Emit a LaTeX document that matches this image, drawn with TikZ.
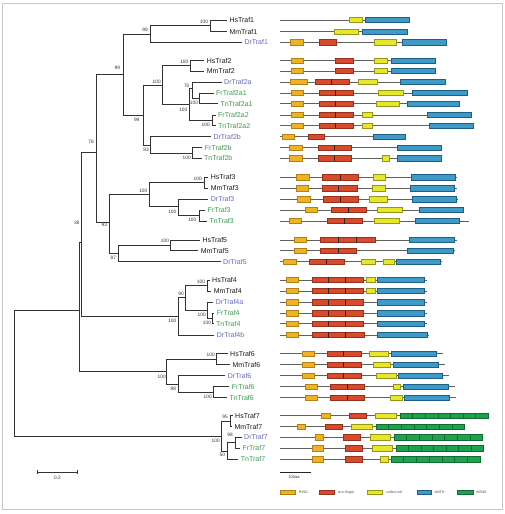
\documentclass[tikz,border=0pt]{standalone}
\usepackage{fontspec}
\setmainfont{Liberation Sans}
\definecolor{drcol}{RGB}{100,106,190}
\definecolor{fncol}{RGB}{60,155,78}
\definecolor{tipcol}{RGB}{25,25,25}
\definecolor{ringF}{RGB}{238,178,36}\definecolor{ringD}{RGB}{180,130,20}
\definecolor{zincF}{RGB}{217,74,44}\definecolor{zincD}{RGB}{150,50,28}
\definecolor{coilF}{RGB}{230,230,45}\definecolor{coilD}{RGB}{150,150,25}
\definecolor{mathF}{RGB}{62,155,200}\definecolor{mathD}{RGB}{30,95,135}
\definecolor{wdF}{RGB}{30,162,78}\definecolor{wdD}{RGB}{18,105,50}
\tikzset{
  br/.style={draw=black!80,line width=0.9pt},
  tip/.style={anchor=west,inner sep=0pt,text height=5pt,text depth=0pt,font=\fontsize{7}{8}\selectfont,text=tipcol},
  dr/.style={tip,text=drcol},
  fn/.style={tip,text=fncol},
  bs/.style={inner sep=0pt,font=\fontsize{4.8}{5}\selectfont,text=black!80},
  backbone/.style={draw=black!62,line width=0.9pt},
  ring/.style={fill=ringF,draw=ringD,line width=0.45pt},
  zinc/.style={fill=zincF,draw=zincD,line width=0.45pt},
  coil/.style={fill=coilF,draw=coilD,line width=0.45pt},
  math/.style={fill=mathF,draw=mathD,line width=0.45pt},
  wdbox/.style={fill=wdF,draw=wdD,line width=0.45pt},
  divline/.style={draw=black!85,line width=0.6pt},
  legtxt/.style={anchor=west,inner sep=0pt,font=\fontsize{3.6}{4}\selectfont,text=black!70},
}
\newcommand{\dombb}[2]{\draw[backbone] (280.3,#1) -- (#2,#1);}
\newcommand{\dombox}[4]{\draw[#1] (#2,#4-2.7) rectangle (#3,#4+2.7);}
\newcommand{\domdiv}[2]{\draw[divline] (#1,#2-2.7) -- (#1,#2+2.7);}
\newcommand{\domwd}[3]{\foreach \k in {0,...,6}{\draw[wdbox] ({#1+\k*(#2-#1)/7},#3-2.7) rectangle ({#1+(\k+1)*(#2-#1)/7},#3+2.7);}}
\begin{document}
\begin{tikzpicture}[x=1pt,y=-1pt]
\useasboundingbox (0,0) rectangle (504,514);
\fill[white] (0,0) rectangle (504,514);
\draw[black!22,line width=0.8pt] (2.7,3.3) rectangle (502.3,509.3);

% ---------------- tip labels ----------------
\node[tip] (HsTraf1) at (229.3,20) {HsTraf1};
\node[tip] (MmTraf1) at (229.3,31.7) {MmTraf1};
\node[dr] (DrTraf1) at (244.3,42.3) {DrTraf1};
\node[tip] (HsTraf2) at (206.7,60.7) {HsTraf2};
\node[tip] (MmTraf2) at (206.7,71) {MmTraf2};
\node[dr] (DrTraf2a) at (224,82) {DrTraf2a};
\node[fn] (FrTraf2a1) at (216,93) {FrTraf2a1};
\node[fn] (TnTraf2a1) at (220.3,103.7) {TnTraf2a1};
\node[fn] (FrTraf2a2) at (218,115) {FrTraf2a2};
\node[fn] (TnTraf2a2) at (218,125.7) {TnTraf2a2};
\node[dr] (DrTraf2b) at (213.3,136.7) {DrTraf2b};
\node[fn] (FrTraf2b) at (204.7,147.7) {FrTraf2b};
\node[fn] (TnTraf2b) at (204,158.3) {TnTraf2b};
\node[tip] (HsTraf3) at (210.7,177.3) {HsTraf3};
\node[tip] (MmTraf3) at (210.7,188.3) {MmTraf3};
\node[dr] (DrTraf3) at (210.7,199.3) {DrTraf3};
\node[fn] (FrTraf3) at (207.7,210) {FrTraf3};
\node[fn] (TnTraf3) at (209.3,221) {TnTraf3};
\node[tip] (HsTraf5) at (202.3,240) {HsTraf5};
\node[tip] (MmTraf5) at (200.7,250.7) {MmTraf5};
\node[dr] (DrTraf5) at (223,261.7) {DrTraf5};
\node[tip] (HsTraf4) at (212,280) {HsTraf4};
\node[tip] (MmTraf4) at (213.7,291) {MmTraf4};
\node[dr] (DrTraf4a) at (215.7,302.3) {DrTraf4a};
\node[fn] (FrTraf4) at (216.7,313.3) {FrTraf4};
\node[fn] (TnTraf4) at (216,323.7) {TnTraf4};
\node[dr] (DrTraf4b) at (216.7,335) {DrTraf4b};
\node[tip] (HsTraf6) at (230,353.7) {HsTraf6};
\node[tip] (MmTraf6) at (232.3,364.7) {MmTraf6};
\node[dr] (DrTraf6) at (227.7,375.7) {DrTraf6};
\node[fn] (FrTraf6) at (231.7,386.7) {FrTraf6};
\node[fn] (TnTraf6) at (229.3,397.7) {TnTraf6};
\node[tip] (HsTraf7) at (235,415.7) {HsTraf7};
\node[tip] (MmTraf7) at (234.3,426.7) {MmTraf7};
\node[dr] (DrTraf7) at (244,437.3) {DrTraf7};
\node[fn] (FrTraf7) at (242.3,448.3) {FrTraf7};
\node[fn] (TnTraf7) at (240.7,459.3) {TnTraf7};

% ---------------- internal nodes ----------------
\coordinate (n0) at (14,373.5);
\coordinate (nB) at (79.7,310.7);
\coordinate (n13) at (81.3,242);
\coordinate (n11) at (96,152.3);
\coordinate (n3) at (123.3,74.9);
\coordinate (n2) at (150,34);
\coordinate (n1) at (210,25.8);
\coordinate (n8) at (143.3,115.5);
\coordinate (n4) at (162.3,85.5);
\coordinate (n5) at (190,65.8);
\coordinate (nA) at (189.3,104);
\coordinate (n6) at (192.7,88.5);
\coordinate (n6b) at (199.3,98.3);
\coordinate (n7) at (212,120.3);
\coordinate (n9) at (150.7,145);
\coordinate (n10) at (192.3,153);
\coordinate (n12) at (109.3,222);
\coordinate (n14) at (149.3,194.4);
\coordinate (n15) at (204,182.8);
\coordinate (n16) at (178.3,206.5);
\coordinate (n16b) at (199,215.5);
\coordinate (n17) at (118.3,253.3);
\coordinate (n18) at (170.7,245.3);
\coordinate (n19) at (178.3,316.4);
\coordinate (n20) at (185,297.7);
\coordinate (n20a) at (207.3,285.5);
\coordinate (n21) at (207.3,310.4);
\coordinate (n21b) at (212.7,318.5);
\coordinate (n22) at (166.7,371.3);
\coordinate (n23) at (216.7,359.2);
\coordinate (n24) at (178.3,384);
\coordinate (n24b) at (213.3,392.2);
\coordinate (n25) at (221,436.2);
\coordinate (n26) at (230.7,421.2);
\coordinate (n27) at (227.3,451);
\coordinate (n28) at (235,442.8);

% ---------------- branches ----------------
\draw[br] (n0) |- (nB); \draw[br] (n0) |- (n25);
\draw[br] (nB) |- (n13); \draw[br] (nB) |- (n22);
\draw[br] (n13) |- (n11); \draw[br] (n13) |- (n19);
\draw[br] (n11) |- (n3); \draw[br] (n11) |- (n12);
\draw[br] (n3) |- (n2); \draw[br] (n3) |- (n8);
\draw[br] (n2) |- (n1); \draw[br] (n2) |- ([xshift=-2.5pt]DrTraf1.west);
\draw[br] (n1) |- ([xshift=-2.5pt]HsTraf1.west); \draw[br] (n1) |- ([xshift=-2.5pt]MmTraf1.west);
\draw[br] (n8) |- (n4); \draw[br] (n8) |- (n9);
\draw[br] (n4) |- (n5); \draw[br] (n4) |- (nA);
\draw[br] (n5) |- ([xshift=-2.5pt]HsTraf2.west); \draw[br] (n5) |- ([xshift=-2.5pt]MmTraf2.west);
\draw[br] (nA) |- (n6); \draw[br] (nA) |- (n7);
\draw[br] (n6) |- ([xshift=-2.5pt]DrTraf2a.west); \draw[br] (n6) |- (n6b);
\draw[br] (n6b) |- ([xshift=-2.5pt]FrTraf2a1.west); \draw[br] (n6b) |- ([xshift=-2.5pt]TnTraf2a1.west);
\draw[br] (n7) |- ([xshift=-2.5pt]FrTraf2a2.west); \draw[br] (n7) |- ([xshift=-2.5pt]TnTraf2a2.west);
\draw[br] (n9) |- ([xshift=-2.5pt]DrTraf2b.west); \draw[br] (n9) |- (n10);
\draw[br] (n10) |- ([xshift=-2.5pt]FrTraf2b.west); \draw[br] (n10) |- ([xshift=-2.5pt]TnTraf2b.west);
\draw[br] (n12) |- (n14); \draw[br] (n12) |- (n17);
\draw[br] (n14) |- (n15); \draw[br] (n14) |- (n16);
\draw[br] (n15) |- ([xshift=-2.5pt]HsTraf3.west); \draw[br] (n15) |- ([xshift=-2.5pt]MmTraf3.west);
\draw[br] (n16) |- ([xshift=-2.5pt]DrTraf3.west); \draw[br] (n16) |- (n16b);
\draw[br] (n16b) |- ([xshift=-2.5pt]FrTraf3.west); \draw[br] (n16b) |- ([xshift=-2.5pt]TnTraf3.west);
\draw[br] (n17) |- (n18); \draw[br] (n17) |- ([xshift=-2.5pt]DrTraf5.west);
\draw[br] (n18) |- ([xshift=-2.5pt]HsTraf5.west); \draw[br] (n18) |- ([xshift=-2.5pt]MmTraf5.west);
\draw[br] (n19) |- (n20); \draw[br] (n19) |- ([xshift=-2.5pt]DrTraf4b.west);
\draw[br] (n20) |- (n20a); \draw[br] (n20) |- (n21);
\draw[br] (n20a) |- ([xshift=-2.5pt]HsTraf4.west); \draw[br] (n20a) |- ([xshift=-2.5pt]MmTraf4.west);
\draw[br] (n21) |- ([xshift=-2.5pt]DrTraf4a.west); \draw[br] (n21) |- (n21b);
\draw[br] (n21b) |- ([xshift=-2.5pt]FrTraf4.west); \draw[br] (n21b) |- ([xshift=-2.5pt]TnTraf4.west);
\draw[br] (n22) |- (n23); \draw[br] (n22) |- (n24);
\draw[br] (n23) |- ([xshift=-2.5pt]HsTraf6.west); \draw[br] (n23) |- ([xshift=-2.5pt]MmTraf6.west);
\draw[br] (n24) |- ([xshift=-2.5pt]DrTraf6.west); \draw[br] (n24) |- (n24b);
\draw[br] (n24b) |- ([xshift=-2.5pt]FrTraf6.west); \draw[br] (n24b) |- ([xshift=-2.5pt]TnTraf6.west);
\draw[br] (n25) |- (n26); \draw[br] (n25) |- (n27);
\draw[br] (n26) |- ([xshift=-2.5pt]HsTraf7.west); \draw[br] (n26) |- ([xshift=-2.5pt]MmTraf7.west);
\draw[br] (n27) |- (n28); \draw[br] (n27) |- ([xshift=-2.5pt]TnTraf7.west);
\draw[br] (n28) |- ([xshift=-2.5pt]DrTraf7.west); \draw[br] (n28) |- ([xshift=-2.5pt]FrTraf7.west);

% ---------------- bootstrap values ----------------
\node[bs] (b1) at (204,22) {100};
\node[bs] (b2) at (145,30.3) {99};
\node[bs] (b3) at (117.3,67.7) {99};
\node[bs] (b4) at (156.7,81.7) {100};
\node[bs] (b5) at (184.3,62) {100};
\node[bs] (b6) at (186.7,86) {70};
\node[bs] (b6b) at (194,103.3) {100};
\node[bs] (bA) at (183.3,110) {100};
\node[bs] (b7) at (205.7,125.3) {100};
\node[bs] (b8) at (136.7,120) {99};
\node[bs] (b9) at (146,150) {83};
\node[bs] (b10) at (186.7,158) {100};
\node[bs] (b11) at (91,141.7) {78};
\node[bs] (b12) at (104.3,225) {93};
\node[bs] (b14) at (143.3,191) {100};
\node[bs] (b15) at (197.7,179) {100};
\node[bs] (b16) at (172.3,212) {100};
\node[bs] (b16b) at (192.3,220.3) {100};
\node[bs] (b17) at (113.3,258.3) {87};
\node[bs] (b18) at (165,241.3) {100};
\node[bs] (b13) at (76.7,222.7) {38};
\node[bs] (b19) at (172.3,321) {100};
\node[bs] (b20) at (181,294.3) {90};
\node[bs] (b20a) at (201,282) {100};
\node[bs] (b21) at (201.7,315) {100};
\node[bs] (b21b) at (207,323) {100};
\node[bs] (b22) at (161.7,376.7) {100};
\node[bs] (b23) at (210.7,355) {100};
\node[bs] (b24) at (173.3,389) {98};
\node[bs] (b24b) at (207.7,397) {100};
\node[bs] (b25) at (215.7,440.7) {100};
\node[bs] (b26) at (225,417) {95};
\node[bs] (b27) at (222.3,455.3) {50};
\node[bs] (b28) at (230,435) {98};

% tree scale bar
\coordinate (sbA) at (37.3,472);
\coordinate (sbB) at (77.7,472);
\draw[br,line width=0.8pt] (sbA) -- (sbB);
\draw[br,line width=0.8pt] ([yshift=-1.8pt]sbA) -- ([yshift=1.8pt]sbA);
\draw[br,line width=0.8pt] ([yshift=-1.8pt]sbB) -- ([yshift=1.8pt]sbB);
\node[bs] (sbl) at (57.5,477.5) {0.2};

% ---------------- domain architectures ----------------
% Traf1
\dombb{20}{409.3}\dombox{coil}{349.3}{362.7}{20}\dombox{math}{365.3}{409.3}{20}
\dombb{31.7}{407}\dombox{coil}{334.3}{358.7}{31.7}\dombox{math}{362.7}{407}{31.7}
\dombb{42.3}{446.7}\dombox{ring}{290.3}{303.7}{42.3}\dombox{zinc}{319.3}{336}{42.3}\dombox{coil}{374.3}{396.7}{42.3}\dombox{math}{402.3}{446.7}{42.3}
% Traf2
\dombb{60.7}{435.7}\dombox{ring}{291}{303.3}{60.7}\dombox{zinc}{335.3}{353}{60.7}\dombox{coil}{374.3}{387}{60.7}\dombox{math}{391}{435.7}{60.7}
\dombb{71}{435.7}\dombox{ring}{291}{303.3}{71}\dombox{zinc}{335.3}{353}{71}\dombox{coil}{374.3}{387}{71}\dombox{math}{391}{435.7}{71}
\dombb{82}{445}\dombox{ring}{290.3}{307.7}{82}\dombox{zinc}{315.3}{349.3}{82}\domdiv{331.7}{82}\dombox{coil}{358.3}{377}{82}\dombox{math}{400.7}{445}{82}
\dombb{93}{467}\dombox{ring}{291}{303.3}{93}\dombox{zinc}{319.3}{353.3}{93}\domdiv{335.3}{93}\dombox{coil}{378}{403.7}{93}\dombox{math}{412}{467}{93}
\dombb{103.7}{459}\dombox{ring}{291}{303.3}{103.7}\dombox{zinc}{319.3}{353.3}{103.7}\domdiv{335.3}{103.7}\dombox{coil}{376.3}{399.3}{103.7}\dombox{math}{407}{459}{103.7}
\dombb{115}{471.7}\dombox{ring}{291}{303.3}{115}\dombox{zinc}{319.3}{353.3}{115}\domdiv{335.3}{115}\dombox{coil}{362.3}{372}{115}\dombox{math}{427.7}{471.7}{115}
\dombb{125.7}{473.7}\dombox{ring}{291}{303.3}{125.7}\dombox{zinc}{319.3}{353.3}{125.7}\domdiv{335.3}{125.7}\dombox{coil}{362.3}{372}{125.7}\dombox{math}{429.3}{473.7}{125.7}
\dombb{136.7}{405.7}\dombox{ring}{282}{294.7}{136.7}\dombox{zinc}{308}{324.3}{136.7}\dombox{math}{373.3}{405.7}{136.7}
\dombb{147.7}{441.7}\dombox{ring}{289.3}{302}{147.7}\dombox{zinc}{318}{351.7}{147.7}\domdiv{334.3}{147.7}\dombox{math}{397}{441.7}{147.7}
\dombb{158.3}{441}\dombox{ring}{289.3}{302}{158.3}\dombox{zinc}{318}{351.7}{158.3}\domdiv{334.3}{158.3}\dombox{coil}{382.3}{389}{158.3}\dombox{math}{397}{441}{158.3}
% Traf3
\dombb{177.3}{456.7}\dombox{ring}{296.7}{309.3}{177.3}\dombox{zinc}{322.3}{358}{177.3}\domdiv{340}{177.3}\dombox{coil}{373}{385.7}{177.3}\dombox{math}{411}{455}{177.3}
\dombb{188.3}{456.7}\dombox{ring}{296}{308.7}{188.3}\dombox{zinc}{322.3}{357.7}{188.3}\domdiv{338.3}{188.3}\dombox{coil}{372.3}{385.3}{188.3}\dombox{math}{410.7}{454.3}{188.3}
\dombb{199.3}{458.3}\dombox{ring}{297.7}{310}{199.3}\dombox{zinc}{323.3}{358.7}{199.3}\domdiv{340.7}{199.3}\dombox{coil}{369.3}{387}{199.3}\dombox{math}{412.7}{456.7}{199.3}
\dombb{210}{464.3}\dombox{ring}{305.3}{317.3}{210}\dombox{zinc}{331}{366}{210}\domdiv{348}{210}\dombox{coil}{377.3}{402.3}{210}\dombox{math}{419}{463}{210}
\dombb{221}{469}\dombox{ring}{289.3}{301.7}{221}\dombox{zinc}{327.3}{362.7}{221}\domdiv{344.3}{221}\dombox{coil}{374.7}{399}{221}\dombox{math}{415.7}{459.7}{221}
% Traf5
\dombb{240}{456.7}\dombox{ring}{294.3}{306.7}{240}\dombox{zinc}{320.7}{375.3}{240}\domdiv{338.3}{240}\domdiv{356.7}{240}\dombox{math}{409.7}{454.7}{240}
\dombb{250.7}{455}\dombox{ring}{294.3}{306.7}{250.7}\dombox{zinc}{320.7}{356.3}{250.7}\domdiv{338.3}{250.7}\dombox{math}{407.7}{453.3}{250.7}
\dombb{261.7}{441.7}\dombox{ring}{283.3}{296.3}{261.7}\dombox{zinc}{309.3}{344.3}{261.7}\domdiv{326.7}{261.7}\dombox{coil}{361.7}{375.3}{261.7}\dombox{coil}{383.7}{394}{261.7}\dombox{math}{396.7}{440.7}{261.7}
% Traf4
\foreach \yy in {280,291}{
  \dombb{\yy}{426.7}\dombox{ring}{286}{298.7}{\yy}\dombox{zinc}{312}{363.7}{\yy}\domdiv{328.7}{\yy}\domdiv{345.7}{\yy}\dombox{coil}{366.3}{375.7}{\yy}\dombox{math}{377.3}{424.7}{\yy}
}
\foreach \yy in {302.3,313.3,323.7}{
  \dombb{\yy}{426.7}\dombox{ring}{286}{298.7}{\yy}\dombox{zinc}{312}{363.7}{\yy}\domdiv{328.7}{\yy}\domdiv{345.7}{\yy}\dombox{math}{377.3}{424.7}{\yy}
}
\dombb{335}{429}\dombox{ring}{286}{298.7}{335}\dombox{zinc}{312}{364.3}{335}\domdiv{328.7}{335}\domdiv{345.7}{335}\dombox{math}{377.3}{427}{335}
% Traf6
\dombb{353.7}{443}\dombox{ring}{302.3}{314.3}{353.7}\dombox{zinc}{327.3}{361}{353.7}\domdiv{343.7}{353.7}\dombox{coil}{369.3}{388.3}{353.7}\dombox{math}{391}{436}{353.7}
\dombb{364.7}{445.3}\dombox{ring}{302.3}{314.3}{364.7}\dombox{zinc}{327.3}{361}{364.7}\domdiv{343.7}{364.7}\dombox{coil}{373.3}{390.7}{364.7}\dombox{math}{393.3}{438.7}{364.7}
\dombb{375.7}{449.3}\dombox{ring}{302.3}{314.3}{375.7}\dombox{zinc}{327.3}{361.7}{375.7}\domdiv{343.7}{375.7}\dombox{coil}{376.7}{396.7}{375.7}\dombox{math}{398.7}{442.7}{375.7}
\dombb{386.7}{455}\dombox{ring}{305.3}{317.3}{386.7}\dombox{zinc}{330.3}{364}{386.7}\domdiv{347.3}{386.7}\dombox{coil}{393.3}{400.7}{386.7}\dombox{math}{403.3}{448.3}{386.7}
\dombb{397.7}{456.3}\dombox{ring}{305.3}{317.3}{397.7}\dombox{zinc}{330.3}{364.7}{397.7}\domdiv{347.3}{397.7}\dombox{coil}{390.3}{402.7}{397.7}\dombox{math}{404.7}{449.7}{397.7}
% Traf7
\dombb{415.7}{488.3}\dombox{ring}{321}{330}{415.7}\dombox{zinc}{349.3}{366.7}{415.7}\dombox{coil}{375}{396.7}{415.7}\domwd{400}{488.3}{415.7}
\dombb{426.7}{464.7}\dombox{ring}{297.3}{305.7}{426.7}\dombox{zinc}{325.3}{342.7}{426.7}\dombox{coil}{351.3}{372.7}{426.7}\domwd{376}{464.7}{426.7}
\dombb{437.3}{482.7}\dombox{ring}{315.3}{323}{437.3}\dombox{zinc}{343.3}{360.7}{437.3}\dombox{coil}{370.3}{390.7}{437.3}\domwd{394}{482.7}{437.3}
\dombb{448.3}{483.7}\dombox{ring}{312.3}{323.3}{448.3}\dombox{zinc}{345}{362}{448.3}\dombox{coil}{372.3}{392.3}{448.3}\domwd{396}{483.7}{448.3}
\dombb{459.3}{480}\dombox{ring}{312.3}{323.3}{459.3}\dombox{zinc}{345.3}{362.7}{459.3}\dombox{coil}{380}{388.3}{459.3}\domwd{391}{480}{459.3}

% domain scale bar
\coordinate (dsA) at (280.3,472);
\coordinate (dsB) at (311.3,472);
\draw[black!85,line width=0.9pt] (dsA) -- (dsB);
\node[bs,font=\fontsize{4}{4}\selectfont] (dsl) at (294,476.8) {100aa};

% legend
\draw[ring] (280.3,490.1) rectangle (295.7,494.5); \node[legtxt] (lring) at (298.7,492.3) {RING};
\draw[zinc] (319.3,490.1) rectangle (334.3,494.5); \node[legtxt] (lzinc) at (337.7,492.3) {zinc finger};
\draw[coil] (367.7,490.1) rectangle (382.7,494.5); \node[legtxt] (lcoil) at (386,492.3) {coiled-coil};
\draw[math] (417,490.1) rectangle (431.7,494.5); \node[legtxt] (lmath) at (434.3,492.3) {MATH};
\draw[wdbox] (457.7,490.1) rectangle (473,494.5); \node[legtxt] (lwd) at (476,492.3) {WD40};
\end{tikzpicture}
\end{document}
